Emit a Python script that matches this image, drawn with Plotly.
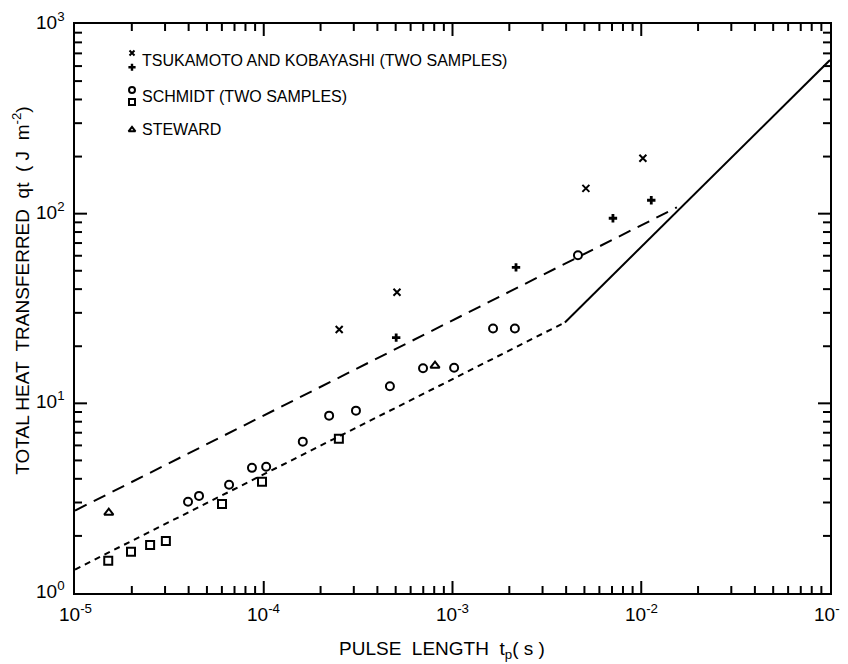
import math
import plotly.graph_objects as go

# ---- data ----
tsuk1_t = [2.51e-4, 5.08e-4, 5.09e-3, 1.02e-2]
tsuk1_q = [24.5, 38.5, 136, 196]
tsuk2_t = [5.03e-4, 2.17e-3, 7.08e-3, 1.13e-2]
tsuk2_q = [22.2, 52.1, 94.6, 117.7]

schm1_t = [3.97e-5, 4.54e-5, 6.55e-5, 8.66e-5, 1.03e-4, 1.61e-4, 2.22e-4, 3.08e-4,
           4.66e-4, 6.98e-4, 1.02e-3, 1.64e-3, 2.14e-3, 4.62e-3]
schm1_q = [3.03, 3.25, 3.72, 4.57, 4.63, 6.28, 8.61, 9.15,
           12.3, 15.3, 15.4, 24.8, 24.8, 60.3]
schm2_t = [1.50e-5, 1.98e-5, 2.50e-5, 3.03e-5, 6.01e-5, 9.79e-5, 2.50e-4]
schm2_q = [1.48, 1.65, 1.79, 1.88, 2.95, 3.86, 6.51]

stew_t = [1.51e-5, 8.08e-4]
stew_q = [2.65, 15.8]

long_dash_t = [1e-5, 1.545e-2]
long_dash_q = [2.72, 108]
short_dash_t = [1e-5, 3.94e-3]
short_dash_q = [1.33, 26.7]
solid_t = [3.94e-3, 1e-1]
solid_q = [26.7, 646]

x_tick_vals = [1e-5, 1e-4, 1e-3, 1e-2, 1e-1]
x_tick_text = ["10<sup>-5</sup>", "10<sup>-4</sup>", "10<sup>-3</sup>", "10<sup>-2</sup>", "10<sup>-1</sup>"]
y_tick_vals = [1, 10, 100, 1000]
y_tick_text = ["10<sup>0</sup>", "10<sup>1</sup>", "10<sup>2</sup>", "10<sup>3</sup>"]

legend_labels = ["TSUKAMOTO AND KOBAYASHI (TWO SAMPLES)", "SCHMIDT (TWO SAMPLES)", "STEWARD"]

FONT = "Liberation Sans"
BLACK = "black"
X_RANGE = [-5, -1]   # log10 axis ranges
Y_RANGE = [0, 3]

W, H = 840, 656
MARGIN = dict(l=67, r=18, t=16, b=71)
PLOT_W = W - MARGIN["l"] - MARGIN["r"]
PLOT_H = H - MARGIN["t"] - MARGIN["b"]


def xfrac(v):
    return (math.log10(v) - X_RANGE[0]) / (X_RANGE[1] - X_RANGE[0])


def yfrac(v):
    return (math.log10(v) - Y_RANGE[0]) / (Y_RANGE[1] - Y_RANGE[0])


def frac_to_x(f):
    return 10 ** (X_RANGE[0] + f * (X_RANGE[1] - X_RANGE[0]))


def frac_to_y(f):
    return 10 ** (Y_RANGE[0] + f * (Y_RANGE[1] - Y_RANGE[0]))


fig = go.Figure()

# lines
fig.add_trace(go.Scatter(x=long_dash_t, y=long_dash_q, mode="lines",
                         line=dict(color=BLACK, width=2, dash="13px,8px"), showlegend=False))
fig.add_trace(go.Scatter(x=short_dash_t, y=short_dash_q, mode="lines",
                         line=dict(color=BLACK, width=2, dash="6px,5px"), showlegend=False))
fig.add_trace(go.Scatter(x=solid_t, y=solid_q, mode="lines",
                         line=dict(color=BLACK, width=2), showlegend=False))

# markers
sym_x = dict(symbol="x-thin", size=7, color=BLACK, line=dict(color=BLACK, width=2))
sym_plus = dict(symbol="cross", size=7, color=BLACK)
sym_circ = dict(symbol="circle-open", size=8, color=BLACK, line=dict(color=BLACK, width=2))
sym_sq = dict(symbol="square-open", size=8, color=BLACK, line=dict(color=BLACK, width=2))
sym_tri = dict(symbol="triangle-up-open", size=8, color=BLACK, line=dict(color=BLACK, width=2))

fig.add_trace(go.Scatter(x=tsuk1_t, y=tsuk1_q, mode="markers", marker=sym_x, showlegend=False))
fig.add_trace(go.Scatter(x=tsuk2_t, y=tsuk2_q, mode="markers", marker=sym_plus, showlegend=False))
fig.add_trace(go.Scatter(x=schm1_t, y=schm1_q, mode="markers", marker=sym_circ, showlegend=False))
fig.add_trace(go.Scatter(x=schm2_t, y=schm2_q, mode="markers", marker=sym_sq, showlegend=False))
fig.add_trace(go.Scatter(x=stew_t, y=stew_q, mode="markers", marker=sym_tri, showlegend=False))

# in-plot legend: positions given as fractions of the plot area
leg_x = 0.0755
leg_sym_y = [0.949, 0.924, 0.884, 0.863, 0.814]
leg_syms = [sym_x, sym_plus, sym_circ, sym_sq, sym_tri]
leg_sizes = [5, 6, 6, 6, 6]
for yy, ms, sz in zip(leg_sym_y, leg_syms, leg_sizes):
    m = dict(ms)
    m["size"] = sz
    fig.add_trace(go.Scatter(x=[frac_to_x(leg_x)], y=[frac_to_y(yy)], mode="markers",
                             marker=m, showlegend=False, hoverinfo="skip"))
for txt, yy in zip(legend_labels, [0.936, 0.873, 0.815]):
    fig.add_annotation(x=0.088, y=yy, xref="paper", yref="paper", text=txt, showarrow=False,
                       borderpad=0, xanchor="left", yanchor="middle",
                       font=dict(family=FONT, size=16, color=BLACK))

# axis titles
fig.add_annotation(x=0.486, y=-0.100, xref="paper", yref="paper", showarrow=False,
                   text="PULSE  LENGTH  t<sub>p</sub>( s )", xanchor="center", yanchor="middle",
                   font=dict(family=FONT, size=19, color=BLACK))
fig.add_annotation(x=-0.071, y=0.532, xref="paper", yref="paper", showarrow=False, textangle=-90,
                   text="TOTAL HEAT  TRANSFERRED  qt  ( J  m<sup>-2</sup>)", xanchor="center",
                   yanchor="middle", font=dict(family=FONT, size=19, color=BLACK))

# tick labels
for v, t in zip(x_tick_vals, x_tick_text):
    fig.add_annotation(x=xfrac(v), y=-0.035, xref="paper", yref="paper", text=t, showarrow=False,
                       xanchor="center", yanchor="middle", font=dict(family=FONT, size=19, color=BLACK))
for v, t in zip(y_tick_vals, y_tick_text):
    fig.add_annotation(x=-0.011, y=yfrac(v), xref="paper", yref="paper", text=t, showarrow=False,
                       xanchor="right", yanchor="middle", yshift=3,
                       font=dict(family=FONT, size=19, color=BLACK))

# tick marks (axis furniture) on all four sides, drawn inward
MAJOR_LEN, MINOR_LEN = 12, 7
x_major_inner = [1e-4, 1e-3, 1e-2]
y_major_inner = [10, 100]
x_minor = [m * 10.0 ** e for e in range(-5, -1) for m in range(2, 10)]
y_minor = [m * 10.0 ** e for e in range(0, 3) for m in range(2, 10)]

shapes = []


def xtick(v, length, width):
    f = xfrac(v)
    h = length / PLOT_H
    for y0, y1 in ((0, h), (1, 1 - h)):
        shapes.append(dict(type="line", xref="paper", yref="paper", x0=f, x1=f, y0=y0, y1=y1,
                           layer="above", line=dict(color=BLACK, width=width)))


def ytick(v, length, width):
    f = yfrac(v)
    w = length / PLOT_W
    for x0, x1 in ((0, w), (1, 1 - w)):
        shapes.append(dict(type="line", xref="paper", yref="paper", x0=x0, x1=x1, y0=f, y1=f,
                           layer="above", line=dict(color=BLACK, width=width)))


for v in x_major_inner:
    xtick(v, MAJOR_LEN, 2)
for v in x_minor:
    xtick(v, MINOR_LEN, 2)
for v in y_major_inner:
    ytick(v, MAJOR_LEN, 2)
for v in y_minor:
    ytick(v, MINOR_LEN, 2)

axis_common = dict(type="log", showline=True, linecolor=BLACK, linewidth=2, mirror=True,
                   ticks="", showticklabels=False, showgrid=False, zeroline=False,
                   automargin=False)

fig.update_layout(
    width=W, height=H,
    margin=MARGIN,
    paper_bgcolor="white", plot_bgcolor="white",
    font=dict(family=FONT, color=BLACK),
    showlegend=False,
    shapes=shapes,
    xaxis=dict(axis_common, range=X_RANGE),
    yaxis=dict(axis_common, range=Y_RANGE),
)

fig.write_html("out.html")
